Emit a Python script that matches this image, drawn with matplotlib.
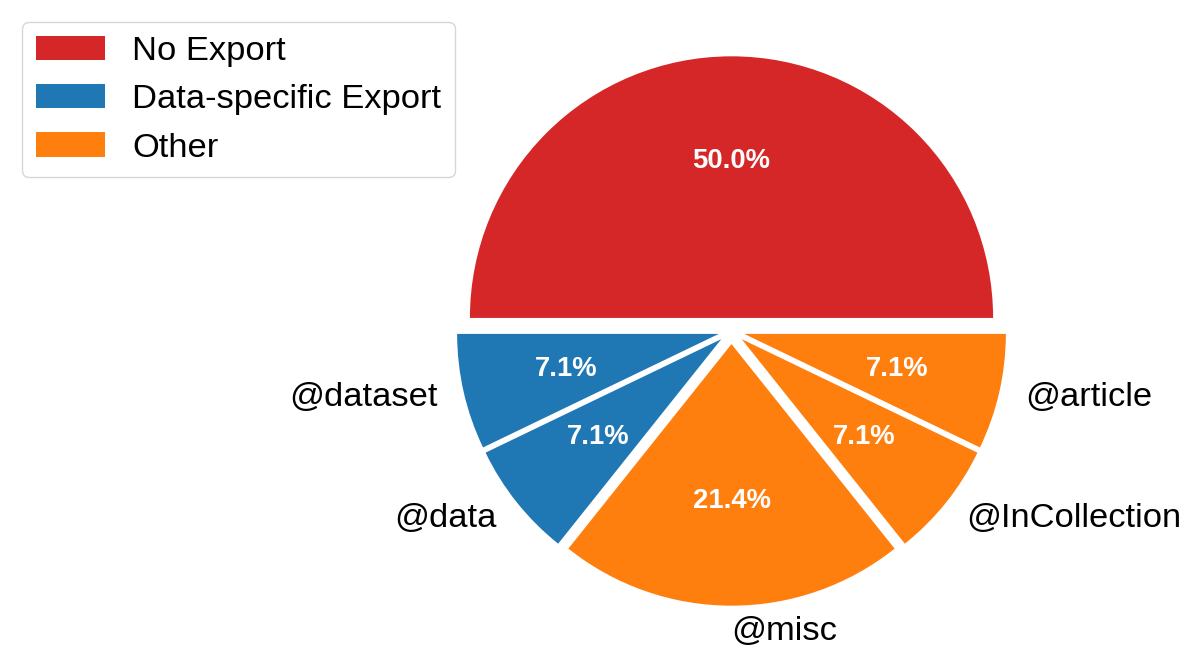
import matplotlib.pyplot as plt
from matplotlib.patches import Patch

plt.rcParams['font.family'] = ['Liberation Sans', 'DejaVu Sans']

# export types counted in the survey
labels = ['', '@dataset', '@data', '@misc', '@InCollection', '@article']
counts = [7, 1, 1, 3, 1, 1]
groups = ['No Export', 'Data-specific Export', 'Data-specific Export', 'Other', 'Other', 'Other']
group_names = ['No Export', 'Data-specific Export', 'Other']
group_colors = {'No Export': '#d62728', 'Data-specific Export': '#1f77b4', 'Other': '#ff7f0e'}

colors = [group_colors[g] for g in groups]
explode = [0.05] * len(counts)

fig = plt.figure(figsize=(12, 6.7), dpi=100)
# square axes placed so the pie sits right of the legend
ax = fig.add_axes([404.5 / 1200, 12 / 670, 654 / 1200, 654 / 670])

wedges, texts, autotexts = ax.pie(counts, labels=labels, colors=colors, explode=explode,
                                  autopct='%1.1f%%', startangle=0, counterclock=True,
                                  textprops={'fontsize': 24.8})
for t in autotexts:
    t.set_color('white')
    t.set_fontweight('bold')
    t.set_fontsize(19.8)

handles = [Patch(facecolor=group_colors[g], label=g) for g in group_names]
fig.legend(handles=handles, loc='upper left', bbox_to_anchor=(22 / 1200, 1 - 22 / 670),
           borderaxespad=0, fontsize=24.8)

fig.savefig('out.png', dpi=100)
